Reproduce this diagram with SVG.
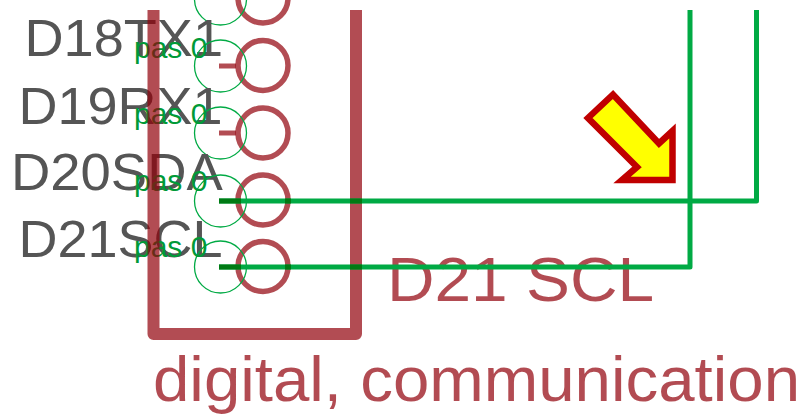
<svg xmlns="http://www.w3.org/2000/svg" width="801" height="414" viewBox="0 0 801 414">
<style>
text{font-family:"Liberation Sans",Arial,sans-serif}
.name{font-size:52.5px;fill:#555}
.pas{font-size:30px;fill:#009a38}
.lbl{font-size:63px;fill:#92000a;opacity:.7}
.pad{fill:none;stroke:#92000a;stroke-width:5.5;opacity:.7}
.stub{fill:none;stroke:#92000a;stroke-width:5;opacity:.7}
.ring{fill:none;stroke:#00aa44;stroke-width:1.300}
.net{fill:none;stroke:#00aa44;stroke-width:5;stroke-linejoin:round}
.cross{fill:none;stroke:#007a14;stroke-width:5}
.frame{fill:none;stroke:#92000a;stroke-width:12;stroke-linejoin:round;opacity:.7}
</style>
<rect width="801" height="414" fill="#fff"/>
<g id="pin-top"><circle class="pad" cx="263" cy="-2" r="25"/><circle class="ring" cx="220.500" cy="-1" r="26"/></g>
<g id="pin-d18"><text class="name" x="24.500" y="56" textLength="198.500" lengthAdjust="spacingAndGlyphs">D18TX1</text><circle class="pad" cx="263" cy="65.500" r="25"/><path class="stub" d="M219 66H236"/><circle class="ring" cx="220.500" cy="66" r="26"/><text class="pas" x="134" y="57.500">pas 0</text></g>
<g id="pin-d19"><text class="name" x="18.500" y="124" textLength="204" lengthAdjust="spacingAndGlyphs">D19RX1</text><circle class="pad" cx="263" cy="133" r="25"/><path class="stub" d="M219 133H236"/><circle class="ring" cx="220.500" cy="133" r="26"/><text class="pas" x="134" y="124">pas 0</text></g>
<g id="pin-d20"><text class="name" x="11" y="190" textLength="211.800" lengthAdjust="spacingAndGlyphs">D20SDA</text><circle class="pad" cx="263" cy="200" r="25"/><circle class="ring" cx="220.500" cy="201" r="26"/><text class="pas" x="134" y="190.500">pas 0</text></g>
<g id="pin-d21"><text class="name" x="18.500" y="257" textLength="204" lengthAdjust="spacingAndGlyphs">D21SCL</text><circle class="pad" cx="263" cy="266.500" r="25"/><circle class="ring" cx="220.500" cy="267" r="26"/><text class="pas" x="134" y="257">pas 0</text></g>
<g id="frame"><path class="frame" d="M153.500 10V334H356V10"/></g>
<g id="labels"><text class="lbl" x="387" y="301" textLength="267" lengthAdjust="spacingAndGlyphs">D21 SCL</text><text class="lbl" x="153" y="401" textLength="647" lengthAdjust="spacingAndGlyphs">digital, communication</text></g>
<g id="connectors"><path class="net" d="M219 201H756.500V10"/><path class="net" d="M219 267H690V10"/><path class="cross" d="M219 201H241M285 201H291M350 201H362M219 267H241M285 267H291M350 267H362"/></g>
<g id="marker"><path d="M613 94.500 588 118 637 167 622 180H672.500V131L659 143.500Z" fill="#ff0" stroke="#c00000" stroke-width="6.500" stroke-miterlimit="10"/></g>
</svg>
